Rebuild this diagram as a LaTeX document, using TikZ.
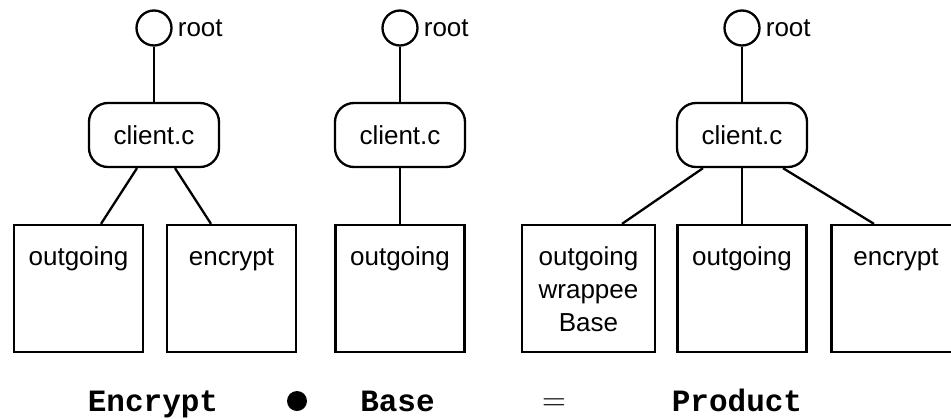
\documentclass[tikz,border=0pt]{standalone}
\usepackage{fontspec}
\setmainfont{Liberation Sans}
\newfontfamily\codefont{Liberation Mono}
\newfontfamily\symfont{Latin Modern Roman}
\usetikzlibrary{calc}
\begin{document}
\begin{tikzpicture}[x=1pt,y=-1pt,
  every node/.style={inner sep=0pt},
  edge/.style={line width=2.3pt, draw=black},
  rootnode/.style={circle, draw, line width=2.3pt, minimum size=35pt},
  rootlabel/.style={anchor=west, font=\fontsize{26}{32.7}\selectfont},
  filenode/.style={rectangle, rounded corners=19pt, draw, line width=2.3pt,
    minimum width=130pt, minimum height=64pt, font=\fontsize{26}{32.7}\selectfont},
  featbox/.style={rectangle, draw, line width=2.3pt, minimum width=129pt, minimum height=127pt},
  boxlabel/.style={anchor=base, align=center, font=\fontsize{26}{32.7}\selectfont},
  formula/.style={anchor=base, font=\codefont\bfseries\fontsize{31}{31}\selectfont}
]
\useasboundingbox (0,0) rectangle (951,418);

% ---- Encrypt ----
\node[rootnode] (ra) at (154,28) {};
\node[rootlabel] (la) at ([xshift=5pt]ra.east) {root};
\node[filenode] (ca) at (154,135) {client.c};
\node[featbox] (b1) at (78.5,288.5) {};
\node[featbox] (b2) at (231.5,288.5) {};
\node[boxlabel] (t1) at ($(b1.north)+(0,42)$) {outgoing};
\node[boxlabel] (t2) at ($(b2.north)+(0,42)$) {encrypt};
\draw[edge] (ra) -- (ca);
\draw[edge] ([xshift=-17pt]ca.south) -- ([xshift=22.5pt]b1.north);
\draw[edge] ([xshift=21pt]ca.south) -- ([xshift=-20.5pt]b2.north);

% ---- Base ----
\node[rootnode] (rb) at (400,28) {};
\node[rootlabel] (lb) at ([xshift=5pt]rb.east) {root};
\node[filenode] (cb) at (400,135) {client.c};
\node[featbox] (b3) at (400,288.5) {};
\node[boxlabel] (t3) at ($(b3.north)+(0,42)$) {outgoing};
\draw[edge] (rb) -- (cb);
\draw[edge] (cb) -- (b3);

% ---- Product ----
\node[rootnode] (rc) at (742,28) {};
\node[rootlabel] (lc) at ([xshift=5pt]rc.east) {root};
\node[filenode] (cc) at (742,135) {client.c};
\node[featbox, minimum width=133pt] (b4) at (588.5,288.5) {};
\node[featbox] (b5) at (742,288.5) {};
\node[featbox] (b6) at (896,288.5) {};
% base anchor of a multi-line node sits on its last line
\node[boxlabel] (t4) at ($(b4.north)+(0,107.4)$) {outgoing\\wrappee\\Base};
\node[boxlabel] (t5) at ($(b5.north)+(0,42)$) {outgoing};
\node[boxlabel] (t6) at ($(b6.north)+(0,42)$) {encrypt};
\draw[edge] (rc) -- (cc);
\draw[edge] ([xshift=-39pt]cc.south) -- ([xshift=33.5pt]b4.north);
\draw[edge] (cc) -- (b5);
\draw[edge] ([xshift=41pt]cc.south) -- ([xshift=-22pt]b6.north);

% ---- composition formula ----
\node[formula] (fe) at (153,411) {Encrypt};
\node[circle, fill=black, minimum size=20pt] (fdot) at (297,401) {};
\node[formula] (fb) at (397.5,411) {Base};
\node[anchor=base, font=\symfont\fontsize{33}{33}\selectfont] (feq) at (554,410) {=};
\node[formula] (fp) at (737,411) {Product};
\end{tikzpicture}
\end{document}
